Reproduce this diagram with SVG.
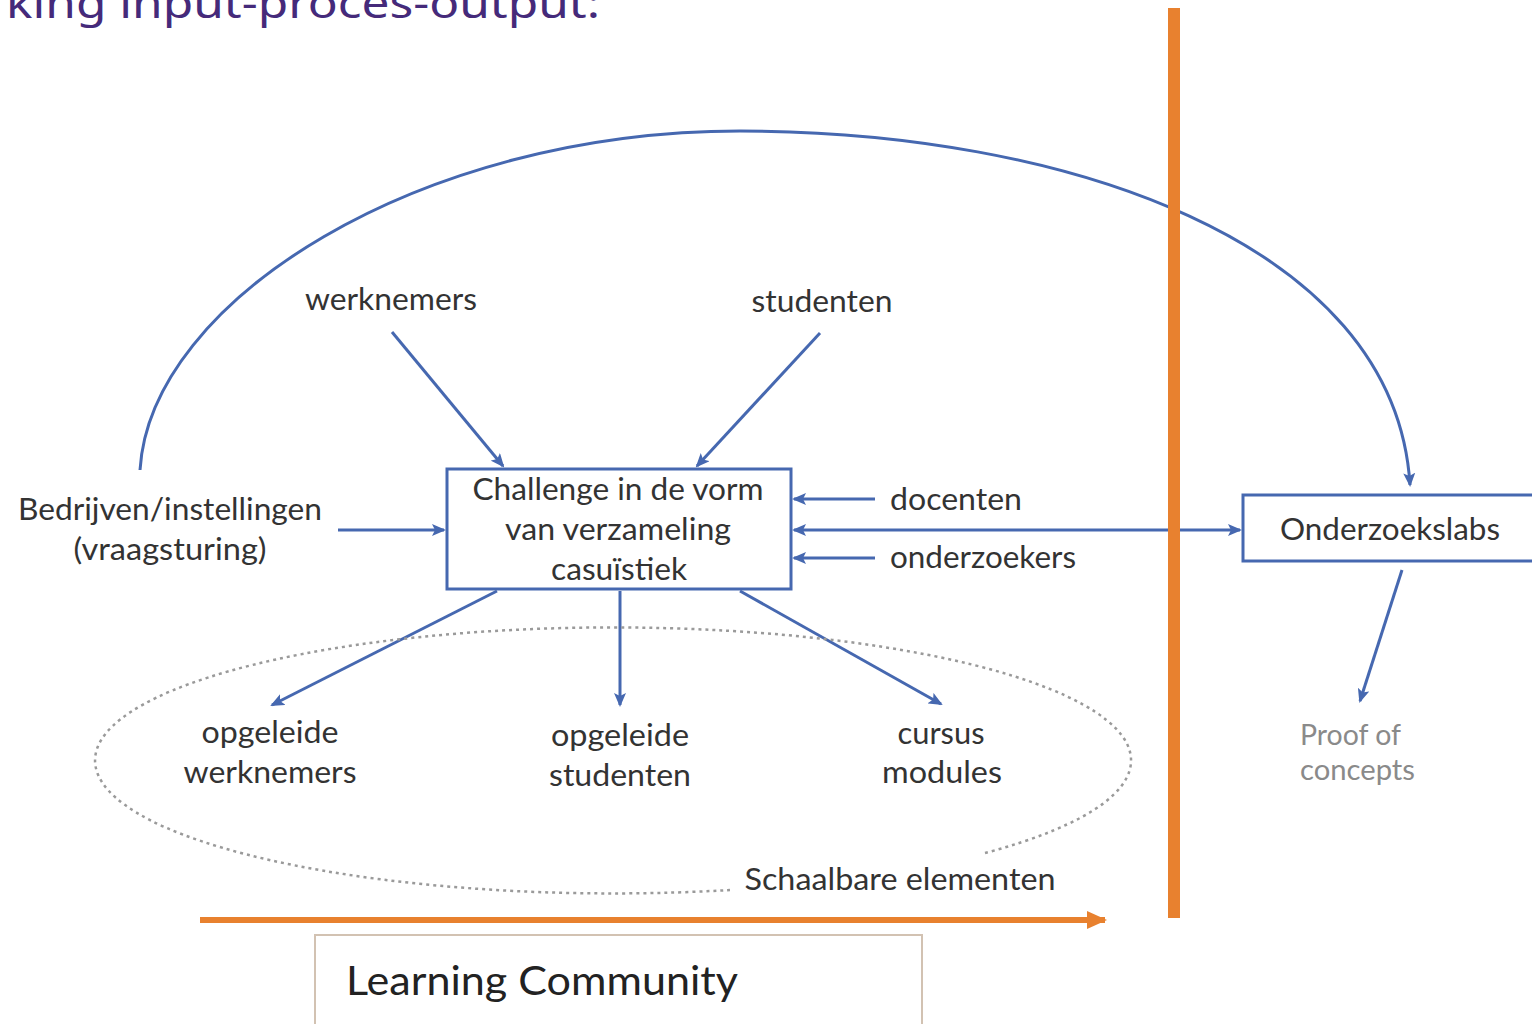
<svg xmlns="http://www.w3.org/2000/svg" width="1532" height="1024" viewBox="0 0 1532 1024">
<defs>
<marker id="ah" markerWidth="14" markerHeight="12" refX="12" refY="6" orient="auto" markerUnits="userSpaceOnUse">
<path d="M0,0 L14,6 L0,12 L3,6 Z" fill="#4668b0"/>
</marker>
<marker id="ahs" markerWidth="14" markerHeight="12" refX="2" refY="6" orient="auto" markerUnits="userSpaceOnUse">
<path d="M14,0 L0,6 L14,12 L11,6 Z" fill="#4668b0"/>
</marker>
<marker id="oh" markerWidth="22" markerHeight="22" refX="18" refY="11" orient="auto" markerUnits="userSpaceOnUse">
<path d="M0,2 L20,11 L0,20 Z" fill="#e8812f"/>
</marker>
</defs>
<style>
.t{font-family:Lato,"Open Sans","Liberation Sans",sans-serif;font-size:30px;fill:#333;text-anchor:middle}
.p{font-family:Lato,"Open Sans","Liberation Sans",sans-serif;font-size:28px;fill:#8a8a8a}
.box{fill:#fff;stroke:#4668b0;stroke-width:3}
.c{fill:none;stroke:#4668b0;stroke-width:3}
</style>
<rect width="1532" height="1024" fill="#fff"/>
<text x="6" y="18" font-family="'Noto Sans','Open Sans',sans-serif" font-size="42" fill="#452a7a" textLength="594" lengthAdjust="spacingAndGlyphs">king input-proces-output:</text>

<g id="connectors">
<path class="c" d="M140,470 C150,300 420,131 740,131 C1060,131 1395,240 1410,485" marker-end="url(#ah)"/>
<line class="c" x1="392" y1="332" x2="503" y2="466" marker-end="url(#ah)"/>
<line class="c" x1="820" y1="333" x2="697" y2="466" marker-end="url(#ah)"/>
<line class="c" x1="338" y1="530" x2="444" y2="530" marker-end="url(#ah)"/>
<line class="c" x1="875" y1="499" x2="794" y2="499" marker-end="url(#ah)"/>
<line class="c" x1="875" y1="558" x2="794" y2="558" marker-end="url(#ah)"/>
<line class="c" x1="794" y1="530" x2="1240" y2="530" marker-start="url(#ahs)" marker-end="url(#ah)"/>
<line class="c" x1="497" y1="591" x2="272" y2="705" marker-end="url(#ah)"/>
<line class="c" x1="620" y1="591" x2="620" y2="705" marker-end="url(#ah)"/>
<line class="c" x1="740" y1="591" x2="941" y2="704" marker-end="url(#ah)"/>
<line class="c" x1="1402" y1="570" x2="1360" y2="701" marker-end="url(#ah)"/>
<path d="M730,890 A518,133 0 1 1 985,853" fill="none" stroke="#9a9a9a" stroke-width="2.5" stroke-dasharray="3 4"/>
<line x1="1174" y1="8" x2="1174" y2="918" stroke="#e8812f" stroke-width="12"/>
<line x1="200" y1="920" x2="1105" y2="920" stroke="#e8812f" stroke-width="6" marker-end="url(#oh)"/>
</g>

<g id="challenge">
<rect class="box" x="447" y="469" width="344" height="120"/>
<text class="t" x="618" y="500" textLength="291" lengthAdjust="spacingAndGlyphs">Challenge in de vorm</text>
<text class="t" x="618" y="540" textLength="226" lengthAdjust="spacingAndGlyphs">van verzameling</text>
<text class="t" x="619" y="580" textLength="136" lengthAdjust="spacingAndGlyphs">casuïstiek</text>
</g>
<g id="onderzoekslabs">
<rect class="box" x="1243" y="495" width="300" height="66"/>
<text class="t" x="1390" y="540" textLength="220" lengthAdjust="spacingAndGlyphs">Onderzoekslabs</text>
</g>
<g id="werknemers"><text class="t" x="391" y="310" textLength="172" lengthAdjust="spacingAndGlyphs">werknemers</text></g>
<g id="studenten"><text class="t" x="822" y="312" textLength="141" lengthAdjust="spacingAndGlyphs">studenten</text></g>
<g id="bedrijven">
<text class="t" x="170" y="520" textLength="304" lengthAdjust="spacingAndGlyphs">Bedrijven/instellingen</text>
<text class="t" x="170" y="560" textLength="193" lengthAdjust="spacingAndGlyphs">(vraagsturing)</text>
</g>
<g id="docenten"><text class="t" x="956" y="510" textLength="132" lengthAdjust="spacingAndGlyphs">docenten</text></g>
<g id="onderzoekers"><text class="t" x="983" y="568" textLength="186" lengthAdjust="spacingAndGlyphs">onderzoekers</text></g>
<g id="opgeleide-werknemers">
<text class="t" x="270" y="743" textLength="137" lengthAdjust="spacingAndGlyphs">opgeleide</text>
<text class="t" x="270" y="783" textLength="173" lengthAdjust="spacingAndGlyphs">werknemers</text>
</g>
<g id="opgeleide-studenten">
<text class="t" x="620" y="746" textLength="138" lengthAdjust="spacingAndGlyphs">opgeleide</text>
<text class="t" x="620" y="786" textLength="142" lengthAdjust="spacingAndGlyphs">studenten</text>
</g>
<g id="cursus-modules">
<text class="t" x="941" y="744" textLength="87" lengthAdjust="spacingAndGlyphs">cursus</text>
<text class="t" x="942" y="783" textLength="120" lengthAdjust="spacingAndGlyphs">modules</text>
</g>
<g id="schaalbare"><text class="t" x="900" y="890" textLength="311" lengthAdjust="spacingAndGlyphs">Schaalbare elementen</text></g>
<g id="proof">
<text class="p" x="1300" y="745" textLength="101" lengthAdjust="spacingAndGlyphs">Proof of</text>
<text class="p" x="1300" y="780" textLength="115" lengthAdjust="spacingAndGlyphs">concepts</text>
</g>
<g id="learning-community">
<rect x="315" y="935" width="607" height="100" fill="#fff" stroke="#d2c2b2" stroke-width="2"/>
<text x="346" y="995" font-family="Lato,'Open Sans','Liberation Sans',sans-serif" font-size="40" fill="#222" textLength="392" lengthAdjust="spacingAndGlyphs">Learning Community</text>
</g>
</svg>
